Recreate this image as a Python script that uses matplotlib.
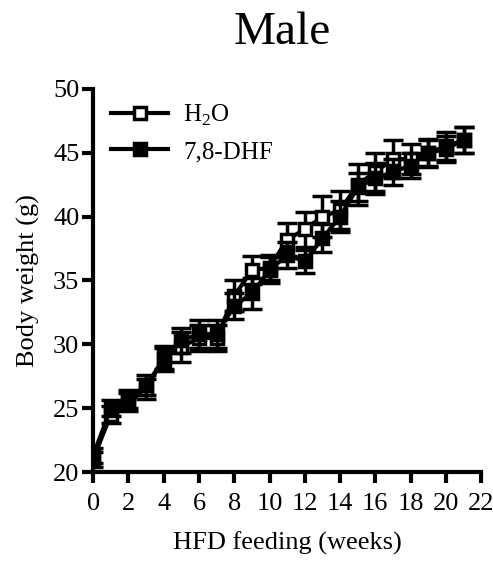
import numpy as np
import matplotlib.pyplot as plt
from matplotlib.lines import Line2D

weeks = list(range(22))
h2o_mean = [21.0, 24.5, 25.5, 26.5, 29.0, 29.8, 30.5, 30.5, 33.8, 35.8, 36.0,
            38.2, 39.0, 40.0, 40.5, 42.5, 43.5, 44.5, 44.5, 45.0, 45.5, 46.0]
h2o_err = [0.6, 0.7, 0.7, 0.8, 0.9, 1.2, 1.0, 1.0, 1.2, 1.1, 1.0,
           1.3, 1.4, 1.6, 1.5, 1.6, 1.5, 1.5, 1.2, 1.1, 1.1, 1.0]
dhf_mean = [21.3, 25.0, 25.7, 26.8, 28.8, 30.3, 30.8, 30.8, 33.0, 34.0, 35.8,
            37.0, 36.5, 38.3, 40.0, 42.3, 43.0, 43.5, 44.0, 45.0, 45.3, 46.0]
dhf_err = [0.6, 0.6, 0.7, 0.8, 0.9, 1.0, 1.1, 1.1, 1.0, 1.2, 1.0,
           1.0, 0.9, 1.1, 1.2, 1.1, 1.2, 1.0, 1.0, 1.0, 1.0, 1.0]

plt.rcParams['font.family'] = ['Liberation Serif', 'DejaVu Serif']
plt.rcParams['mathtext.fontset'] = 'custom'
plt.rcParams['mathtext.rm'] = 'Liberation Serif'

fig = plt.figure(figsize=(4.93, 5.65), dpi=100)
ax = fig.add_axes([0.189, 0.1646, 0.787, 0.678])

ax.errorbar(weeks, h2o_mean, yerr=h2o_err, color='black', lw=3,
            marker='s', ms=8, mfc='white', mec='black', mew=2.5,
            elinewidth=2.5, capsize=7, capthick=2.5, zorder=3)
ax.errorbar(weeks, dhf_mean, yerr=dhf_err, color='black', lw=3,
            marker='s', ms=8, mfc='black', mec='black', mew=2.5,
            elinewidth=2.5, capsize=7, capthick=2.5, zorder=4)

ax.set_xlim(0, 22)
ax.set_ylim(20, 50)
ax.set_xticks(np.arange(0, 23, 2))
ax.set_yticks(np.arange(20, 51, 5))
for s in ['top', 'right']:
    ax.spines[s].set_visible(False)
for s in ['left', 'bottom']:
    ax.spines[s].set_linewidth(3)
ax.tick_params(direction='out', length=8, width=3, labelsize=19)
ax.tick_params(axis='x', pad=7)
ax.tick_params(axis='y', pad=2)

ax.set_xlabel('HFD feeding (weeks)', fontsize=19, labelpad=12)
ax.set_ylabel('Body weight (g)', fontsize=19, labelpad=9)
fig.text(0.572, 0.942, 'Male', fontsize=34, ha='center', va='center')

handles = [
    Line2D([], [], color='black', lw=3, marker='s', ms=8, mfc='white', mec='black', mew=2.5),
    Line2D([], [], color='black', lw=3, marker='s', ms=8, mfc='black', mec='black', mew=2.5),
]
ax.legend(handles, ['H$_\\mathrm{2}$O', '7,8-DHF'], loc='upper left', frameon=False,
          fontsize=18, handlelength=2.3, handletextpad=0.6, labelspacing=0.5,
          borderaxespad=0.0, bbox_to_anchor=(0.02, 0.99))

fig.savefig('out.png', dpi=100)
